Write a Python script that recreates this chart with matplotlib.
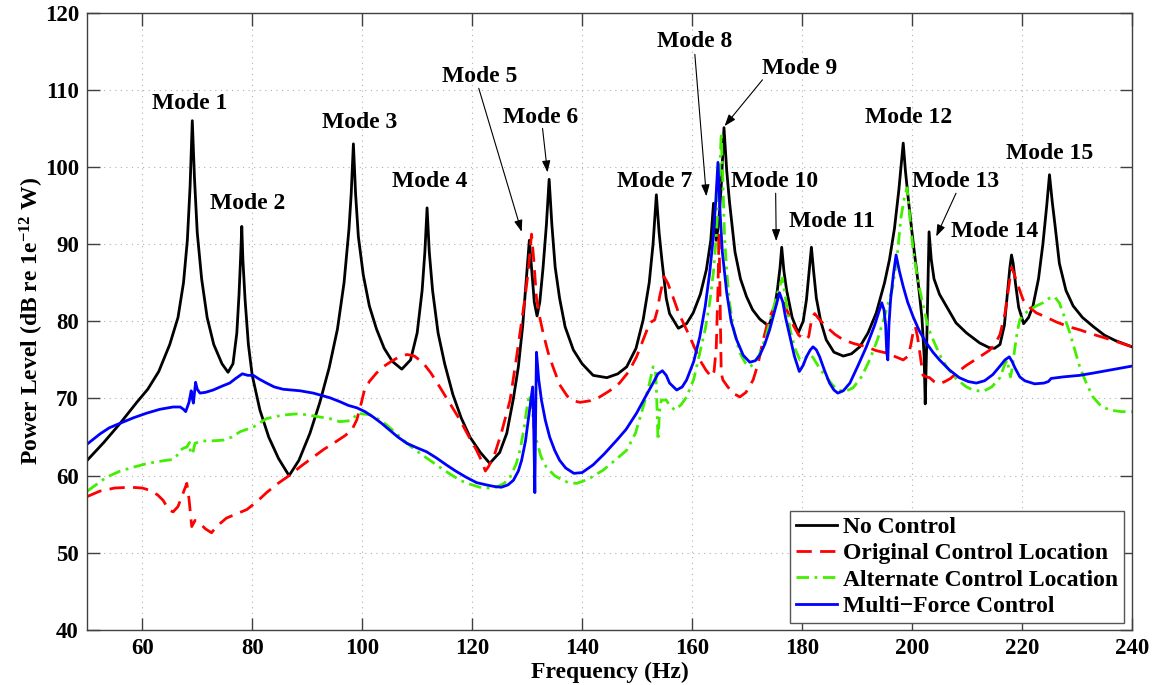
import matplotlib
matplotlib.use('Agg')
import matplotlib.pyplot as plt

plt.rcParams['font.family'] = ['Liberation Serif', 'DejaVu Serif']
plt.rcParams['font.weight'] = 'bold'
plt.rcParams['mathtext.fontset'] = 'custom'
plt.rcParams['mathtext.rm'] = 'Liberation Serif:bold'
plt.rcParams['mathtext.bf'] = 'Liberation Serif:bold'
plt.rcParams['mathtext.default'] = 'bf'

# No Control
nc_freq = [50, 53, 56, 59, 61, 63, 65, 66.5, 67.5, 68.2, 68.7, 69.1, 69.5, 70.0, 70.8, 71.8,
           73.0, 74.5, 75.6, 76.5, 77.2, 77.6, 77.9, 78.1, 78.3, 78.7, 79.3, 80.0, 81.4, 83.0,
           84.8, 86.7, 88.5, 90.5, 92.3, 94.0, 95.5, 96.7, 97.6, 98.0, 98.4, 98.8, 99.3, 100.2,
           101.3, 102.6, 104.0, 105.5, 107.2, 108.8, 110.0, 110.9, 111.4, 111.8, 112.2, 112.8,
           113.8, 115.0, 116.5, 118.0, 119.6, 121.5, 123.2, 125.0, 126.3, 127.5, 128.4, 129.2,
           129.8, 130.4, 130.9, 131.3, 131.8, 132.3, 132.9, 133.5, 134.0, 134.5, 135.1, 135.9,
           136.9, 138.4, 140.0, 142.0, 144.5, 146.5, 148.1, 149.8, 151.1, 152.2, 152.9, 153.5,
           154.0, 154.5, 155.3, 155.9, 157.5, 159.0, 160.2, 161.5, 162.6, 163.4, 163.9, 164.4,
           164.8, 165.3, 165.8, 166.3, 166.8, 167.8, 168.8, 169.9, 171.0, 172.3, 173.9, 174.8,
           175.5, 176.0, 176.3, 176.7, 177.2, 178.2, 179.3, 180.2, 180.8, 181.3, 181.7, 182.1,
           182.6, 183.4, 184.4, 185.8, 187.5, 189.0, 190.5, 192.0, 193.5, 195.0, 195.9, 196.8,
           197.6, 198.0, 198.4, 198.8, 199.3, 200.0, 200.5, 201.2, 201.8, 202.2, 202.4, 202.7,
           203.1, 203.5, 204.0, 205.0, 206.3, 208.0, 209.9, 212.3, 214.0, 215.0, 216.0, 216.8,
           217.4, 217.8, 218.1, 218.4, 218.8, 219.4, 220.3, 221.2, 222.0, 223.0, 223.8, 224.5,
           225.0, 225.5, 226.0, 226.8, 228.0, 229.3, 231.0, 233.0, 235.0, 237.0, 240.0]
nc_db = [62.0, 64.3, 66.8, 69.5, 71.2, 73.5, 77.0, 80.5, 85.0, 90.5, 97.5, 106.0, 98.5, 91.5,
         85.5, 80.5, 77.0, 74.5, 73.4, 74.5, 78.5, 83.5, 88.5, 92.3, 88.0, 82.8, 77.0, 73.0,
         68.5, 65.0, 62.2, 60.0, 62.0, 65.5, 69.5, 74.0, 79.0, 85.0, 92.0, 96.5, 103.0, 96.5,
         91.0, 86.0, 82.0, 79.0, 76.5, 74.8, 73.8, 75.0, 78.5, 84.0, 89.0, 94.7, 89.0, 84.0,
         78.5, 74.5, 70.5, 67.5, 65.0, 63.0, 61.6, 63.0, 65.5, 70.0, 74.1, 79.5, 85.0, 90.5,
         86.0, 82.5, 80.7, 82.5, 87.0, 92.5, 98.4, 92.5, 87.0, 83.0, 79.3, 76.3, 74.5, 73.0,
         72.7, 73.2, 74.1, 76.5, 80.2, 85.0, 90.0, 96.4, 91.5, 88.0, 83.0, 81.0, 79.1, 79.7,
         81.1, 83.5, 86.7, 90.5, 95.3, 90.5, 92.5, 97.5, 105.1, 99.5, 95.5, 89.0, 85.5, 83.2,
         81.5, 80.3, 79.4, 81.0, 84.0, 87.0, 89.6, 86.5, 84.0, 80.5, 78.5, 80.0, 82.8, 86.5,
         89.6, 86.5, 83.0, 80.0, 77.6, 76.0, 75.5, 75.8, 76.7, 78.5, 81.1, 85.0, 88.0, 92.0,
         97.0, 100.0, 103.1, 99.5, 96.0, 91.5, 88.5, 84.5, 80.5, 75.5, 69.3, 78.0, 91.6, 88.0,
         85.5, 83.5, 81.9, 79.8, 78.5, 77.2, 76.6, 76.5, 77.0, 79.5, 84.0, 87.0, 88.6, 87.5,
         85.0, 81.8, 79.7, 80.5, 82.0, 85.5, 90.0, 95.0, 99.0, 95.5, 92.5, 87.5, 84.0, 82.0,
         80.5, 79.3, 78.2, 77.5, 76.7]

# Original Control Location
oc_freq = [50, 52.3, 55, 57.8, 60, 61.4, 62.8, 63.8, 64.8, 65.6, 66.5, 67.3, 68.1, 68.5, 69.0,
           69.6, 70.5, 71.5, 72.6, 73.5, 75.3, 77.0, 79.0, 80.8, 82.6, 84.5, 86.7, 89.0, 91.1,
           93.0, 95.0, 96.9, 98.1, 99.0, 99.7, 100.3, 101.3, 102.6, 104.0, 105.5, 107.0, 108.2,
           109.5, 111.1, 112.5, 114.1, 116.0, 117.8, 119.3, 120.8, 121.8, 122.4, 123.0, 124.0,
           125.3, 126.9, 128.0, 128.9, 129.6, 130.2, 130.8, 131.2, 131.7, 132.3, 132.9, 133.8,
           134.7, 135.9, 137.3, 138.5, 139.6, 141.4, 143.2, 145.0, 146.8, 148.5, 149.9, 151.2,
           152.3, 153.2, 153.7, 154.1, 154.9, 155.6, 156.5, 157.6, 159.0, 160.2, 161.4, 162.5,
           163.5, 164.0, 164.4, 164.7, 164.9, 165.1, 165.3, 165.6, 166.5, 167.4, 168.7, 169.8,
           171.1, 172.0, 172.9, 173.8, 174.7, 175.5, 176.5, 177.5, 178.4, 179.4, 180.5, 181.2,
           181.8, 182.3, 183.2, 184.4, 186.0, 187.5, 189.5, 191.7, 193.5, 195.3, 197.0, 198.4,
           199.3, 199.8, 200.3, 200.6, 201.0, 201.5, 202.0, 202.6, 203.2, 204.0, 205.0, 206.0,
           207.0, 208.6, 209.9, 212.3, 214.0, 215.0, 216.0, 216.9, 217.6, 218.1, 218.5, 219.0,
           219.6, 220.2, 221.4, 222.6, 224.5, 226.3, 228.5, 230.5, 233.0, 235.3, 237.5, 240.0]
oc_db = [57.3, 58.0, 58.4, 58.5, 58.4, 58.1, 57.5, 56.8, 55.6, 55.3, 56.0, 57.5, 59.0, 57.0,
         53.4, 54.2, 53.8, 53.1, 52.6, 53.4, 54.5, 55.0, 55.6, 56.6, 57.8, 58.9, 60.0, 61.3,
         62.4, 63.4, 64.3, 65.2, 65.9, 67.2, 69.0, 70.8, 72.2, 73.3, 74.2, 74.9, 75.5, 75.7,
         75.5, 74.6, 73.3, 71.5, 69.3, 67.2, 65.2, 63.3, 61.8, 60.6, 61.2, 62.6, 65.5, 69.8,
         75.0, 79.5, 83.0, 86.5, 91.3, 88.0, 83.0, 80.5, 78.5, 76.0, 74.1, 71.8, 70.3, 69.7,
         69.5, 69.7, 70.2, 71.0, 72.0, 73.5, 75.4, 77.8, 79.8, 80.2, 81.5, 83.2, 85.8, 84.9,
         83.2, 81.0, 78.9, 77.0, 75.0, 73.7, 72.8, 73.5, 76.7, 84.0, 91.5, 82.0, 73.3, 72.4,
         71.5, 70.7, 70.2, 70.8, 72.4, 74.5, 77.5, 80.0, 81.5, 82.5, 82.8, 81.0, 79.5, 78.2,
         77.6, 78.0, 80.5, 81.0, 80.2, 79.3, 78.3, 77.6, 77.1, 76.7, 76.2, 75.9, 75.4, 75.0,
         75.5, 77.0, 79.0, 79.3, 78.0, 75.5, 73.0, 72.8, 72.7, 72.2, 71.9, 72.2, 72.6, 73.6,
         74.3, 75.4, 76.2, 76.9, 78.3, 81.0, 84.5, 87.0, 86.3, 85.2, 84.0, 82.8, 81.8, 81.1,
         80.5, 79.9, 79.3, 78.9, 78.3, 77.8, 77.3, 76.7]

# Alternate Control Location
ac_freq = [50, 53.5, 56, 58.4, 60.5, 62.6, 64.5, 65.6, 66.3, 66.9, 67.6, 68.1, 68.6, 68.8,
           69.2, 69.6, 71.0, 72.5, 74.7, 76.3, 77.8, 80.2, 82.6, 84.5, 86.3, 88.0, 89.9, 92.3,
           94.1, 95.9, 97.5, 98.1, 98.7, 99.0, 100.0, 101.4, 103.0, 104.4, 106.0, 107.5, 109.0,
           110.5, 112.3, 114.1, 116.0, 117.8, 119.6, 121.4, 123.0, 124.4, 125.8, 126.9, 128.0,
           128.7, 129.4, 129.9, 130.4, 130.9, 131.2, 131.7, 132.5, 133.5, 135.0, 136.5, 137.5,
           139.0, 141.0, 143.8, 146.0, 148.1, 149.7, 151.1, 152.1, 152.9, 153.3, 153.5, 153.8,
           154.1, 154.4, 155.3, 156.0, 156.9, 158.0, 159.0, 160.3, 161.4, 162.4, 163.2, 163.9,
           164.4, 164.9, 165.3, 165.6, 165.9, 166.3, 166.8, 167.7, 168.7, 169.6, 170.5, 171.4,
           172.3, 173.5, 174.7, 175.6, 176.4, 177.0, 177.8, 178.7, 179.6, 180.5, 181.4, 182.0,
           182.6, 183.5, 184.4, 185.5, 186.5, 187.8, 189.3, 190.8, 192.3, 193.7, 195.0, 196.5,
           197.3, 198.0, 198.6, 199.1, 199.6, 200.2, 200.8, 201.4, 202.0, 202.5, 202.9, 203.6,
           204.4, 205.3, 206.3, 208.1, 209.9, 211.1, 212.9, 214.5, 216.0, 216.8, 217.3, 217.7,
           217.9, 218.2, 218.6, 219.1, 219.6, 220.5, 221.4, 222.6, 223.8, 225.0, 225.9, 226.8,
           227.7, 228.7, 229.6, 230.5, 231.7, 232.9, 234.4, 236.0, 238.0, 240.0]
ac_db = [58.0, 59.8, 60.6, 61.1, 61.5, 61.8, 62.0, 62.1, 62.6, 63.3, 63.6, 63.7, 64.3, 62.8,
         63.0, 64.2, 64.5, 64.5, 64.6, 65.0, 65.7, 66.3, 67.4, 67.7, 67.9, 68.0, 67.9, 67.6,
         67.4, 67.0, 67.1, 67.2, 67.7, 68.1, 68.0, 67.9, 67.3, 66.6, 65.6, 64.6, 63.7, 62.9,
         62.0, 61.1, 60.2, 59.4, 58.9, 58.5, 58.4, 58.5, 59.0, 59.8, 61.5, 63.3, 66.0, 68.5,
         70.5, 69.0, 66.3, 64.6, 62.5, 61.1, 60.0, 59.4, 59.1, 59.0, 59.5, 60.7, 62.0, 63.3,
         65.5, 68.9, 71.5, 74.1, 74.0, 71.5, 64.6, 68.5, 69.8, 69.8, 69.0, 68.5, 69.2, 70.2,
         72.5, 75.9, 79.0, 82.4, 86.5, 91.0, 97.5, 104.4, 98.0, 91.0, 86.5, 82.4, 78.5, 75.9,
         74.7, 74.1, 74.6, 75.8, 78.2, 81.5, 83.8, 85.6, 83.0, 79.0, 76.5, 75.0, 75.2, 75.7,
         75.3, 74.6, 73.6, 72.8, 71.8, 71.1, 70.9, 71.4, 72.8, 75.0, 77.6, 80.6, 84.5, 88.5,
         93.5, 96.0, 97.3, 93.5, 89.2, 86.5, 84.1, 82.2, 80.6, 79.3, 78.0, 76.7, 75.3, 74.1,
         72.5, 71.5, 71.1, 70.9, 71.5, 72.7, 74.3, 75.0, 73.5, 72.8, 73.8, 76.0, 78.5, 80.2,
         81.0, 81.5, 82.0, 82.4, 83.0, 83.2, 82.4, 80.6, 78.5, 76.3, 74.1, 72.0, 70.2, 69.0,
         68.5, 68.3, 68.3]

# Multi-Force Control
mf_freq = [50, 52.3, 54.0, 56, 58.4, 60.8, 63.2, 65.6, 66.9, 67.5, 67.9, 68.5, 68.9, 69.1,
           69.3, 69.5, 69.7, 70.0, 70.5, 71.5, 72.9, 74.5, 75.9, 77.0, 78.2, 79.2, 80.2, 81.3,
           82.6, 84.0, 85.6, 88.7, 91.1, 94.1, 95.9, 97.5, 99.0, 100.5, 102.0, 103.5, 105.0,
           106.5, 108.1, 110.0, 111.7, 113.5, 115.3, 117.0, 118.9, 120.8, 122.6, 124.0, 125.3,
           126.5, 127.5, 128.4, 129.0, 129.7, 130.2, 130.7, 131.0, 131.2, 131.4, 131.55, 131.7,
           132.1, 132.6, 133.3, 134.1, 135.0, 135.9, 137.0, 138.5, 140.0, 142.0, 144.0, 146.3,
           148.0, 149.9, 151.5, 152.9, 153.8, 154.6, 155.3, 155.9, 157.2, 158.2, 159.0, 160.3,
           161.4, 162.4, 163.2, 163.8, 164.3, 164.7, 165.1, 165.5, 166.3, 167.1, 168.1, 169.3,
           170.5, 171.5, 172.3, 173.2, 174.1, 175.0, 175.9, 176.5, 177.0, 177.8, 178.6, 179.5,
           180.2, 180.8, 181.5, 182.0, 182.6, 183.2, 184.1, 185.0, 185.8, 186.5, 187.5, 188.7,
           190.2, 191.7, 193.2, 194.5, 194.9, 195.2, 195.4, 195.6, 195.8, 196.1, 196.6, 197.1,
           197.7, 198.4, 199.2, 200.2, 201.3, 202.6, 203.8, 205.0, 206.8, 208.6, 210.2, 211.7,
           213.2, 214.7, 216.0, 216.9, 217.7, 218.2, 218.7, 219.6, 220.5, 222.3, 224.0, 224.8,
           225.3, 227.5, 230.5, 233.0, 235.3, 237.5, 240.0]
mf_db = [64.1, 65.4, 66.2, 66.8, 67.5, 68.1, 68.6, 68.9, 68.9, 68.6, 68.3, 69.5, 71.0, 70.0,
         69.4, 70.8, 72.1, 71.2, 70.7, 70.8, 71.1, 71.6, 72.0, 72.6, 73.2, 73.0, 73.0, 72.5,
         72.0, 71.5, 71.2, 71.0, 70.7, 70.1, 69.6, 69.1, 68.8, 68.3, 67.6, 66.8, 65.9, 65.0,
         64.2, 63.6, 63.1, 62.3, 61.4, 60.6, 59.8, 59.1, 58.8, 58.6, 58.5, 58.8, 59.4, 60.6,
         62.0, 64.5, 67.2, 70.0, 71.5, 66.0, 57.8, 68.0, 76.0, 72.5, 69.8, 67.2, 65.0, 63.3,
         62.0, 61.0, 60.3, 60.4, 61.4, 62.8, 64.6, 66.0, 68.1, 70.2, 72.0, 73.2, 73.6, 73.0,
         72.0, 71.1, 71.5, 72.4, 74.8, 78.0, 82.0, 86.3, 90.5, 95.5, 100.6, 94.0, 89.0, 83.7,
         80.0, 77.6, 75.6, 74.7, 74.9, 75.6, 77.0, 78.9, 81.3, 83.7, 82.5, 80.5, 78.0, 75.5,
         73.5, 74.3, 75.4, 76.3, 76.7, 76.3, 75.4, 73.6, 72.0, 71.1, 70.7, 71.0, 72.0, 74.3,
         76.7, 79.5, 82.4, 81.5, 79.5, 76.0, 75.0, 79.5, 82.8, 86.0, 88.6, 86.5, 84.5, 82.5,
         80.6, 78.8, 77.2, 76.0, 75.0, 73.7, 72.7, 72.2, 72.0, 72.3, 73.1, 74.2, 75.0, 75.4,
         74.8, 74.0, 72.8, 72.3, 71.9, 72.0, 72.2, 72.6, 72.8, 73.0, 73.3, 73.6, 73.9, 74.2]

series_labels = ['No Control', 'Original Control Location',
                 'Alternate Control Location', 'Multi\u2212Force Control']

fig = plt.figure(figsize=(11.56, 6.85), dpi=100)
ax = fig.add_axes([0.0755, 0.0803, 0.9037, 0.9012])

lw = 2.0
ax.plot(nc_freq, nc_db, color='black', lw=lw, label=series_labels[0])
ax.plot(oc_freq, oc_db, color='#ff0000', lw=lw, dashes=(5.5, 3.0), label=series_labels[1])
ax.plot(ac_freq, ac_db, color='#44ee00', lw=lw, dashes=(4.5, 2.0, 1.0, 2.0), label=series_labels[2])
ax.plot(mf_freq, mf_db, color='#0000ff', lw=lw, label=series_labels[3])

ax.set_xlim(50, 240)
ax.set_ylim(40, 120)
ax.set_xticks(range(60, 241, 20))
ax.set_yticks(range(40, 121, 10))
ax.grid(True, linestyle=(0, (1, 4)), color='#b0b0b0', lw=0.8)
ax.tick_params(direction='in', length=9, width=1, top=True, right=True,
               labelsize=16.5, color='#404040', pad=6)
for lab in ax.get_xticklabels() + ax.get_yticklabels():
    lab.set_fontweight('bold')
for sp in ax.spines.values():
    sp.set_color('#404040')
    sp.set_linewidth(1.0)

ax.set_xlabel('Frequency (Hz)', fontsize=17, fontweight='bold', labelpad=2)
ax.set_ylabel('Power Level (dB re 1e$^{\u221212}$ W)', fontsize=17, fontweight='bold', labelpad=-1)

# mode labels: (text, label x, label y, arrow tip or None)
mode_labels = [
    ('Mode 1', 68.7, 108.2, None),
    ('Mode 2', 79.2, 95.3, None),
    ('Mode 3', 99.6, 105.8, None),
    ('Mode 4', 112.2, 98.1, None),
    ('Mode 5', 121.4, 111.7, (129.0, 91.6)),
    ('Mode 6', 132.5, 106.4, (133.7, 99.3)),
    ('Mode 7', 153.2, 98.1, None),
    ('Mode 8', 160.5, 116.2, (162.6, 96.2)),
    ('Mode 9', 179.5, 112.8, (165.9, 105.3)),
    ('Mode 10', 175.0, 98.1, (175.3, 90.4)),
    ('Mode 11', 185.4, 92.9, None),
    ('Mode 12', 199.4, 106.4, None),
    ('Mode 13', 208.0, 98.1, (204.4, 91.0)),
    ('Mode 14', 215.1, 91.6, None),
    ('Mode 15', 225.1, 101.7, None),
]
arrow_tails = {
    'Mode 5': (121.2, 110.2),
    'Mode 6': (132.8, 105.0),
    'Mode 8': (160.5, 114.6),
    'Mode 9': (172.8, 111.3),
    'Mode 10': (175.2, 96.6),
    'Mode 13': (208.0, 96.6),
}
for txt, tx, ty, tip in mode_labels:
    ax.text(tx, ty, txt, fontsize=17, fontweight='bold', ha='center', va='center')
    if tip is not None:
        ax.annotate('', xy=tip, xytext=arrow_tails[txt],
                    arrowprops=dict(arrowstyle='-|>,head_length=0.7,head_width=0.25',
                                    color='black', lw=0.8, shrinkA=0, shrinkB=0))

leg = ax.legend(loc='lower right', bbox_to_anchor=(0.9926, 0.0118),
                prop={'weight': 'bold', 'size': 17}, frameon=True, fancybox=False,
                handlelength=1.75, handletextpad=0.25, labelspacing=0.2, borderpad=0.25,
                borderaxespad=0.0)
leg.get_frame().set_edgecolor('#555555')
leg.get_frame().set_linewidth(1.0)
leg.get_frame().set_alpha(1.0)

fig.savefig('out.png', dpi=100)
